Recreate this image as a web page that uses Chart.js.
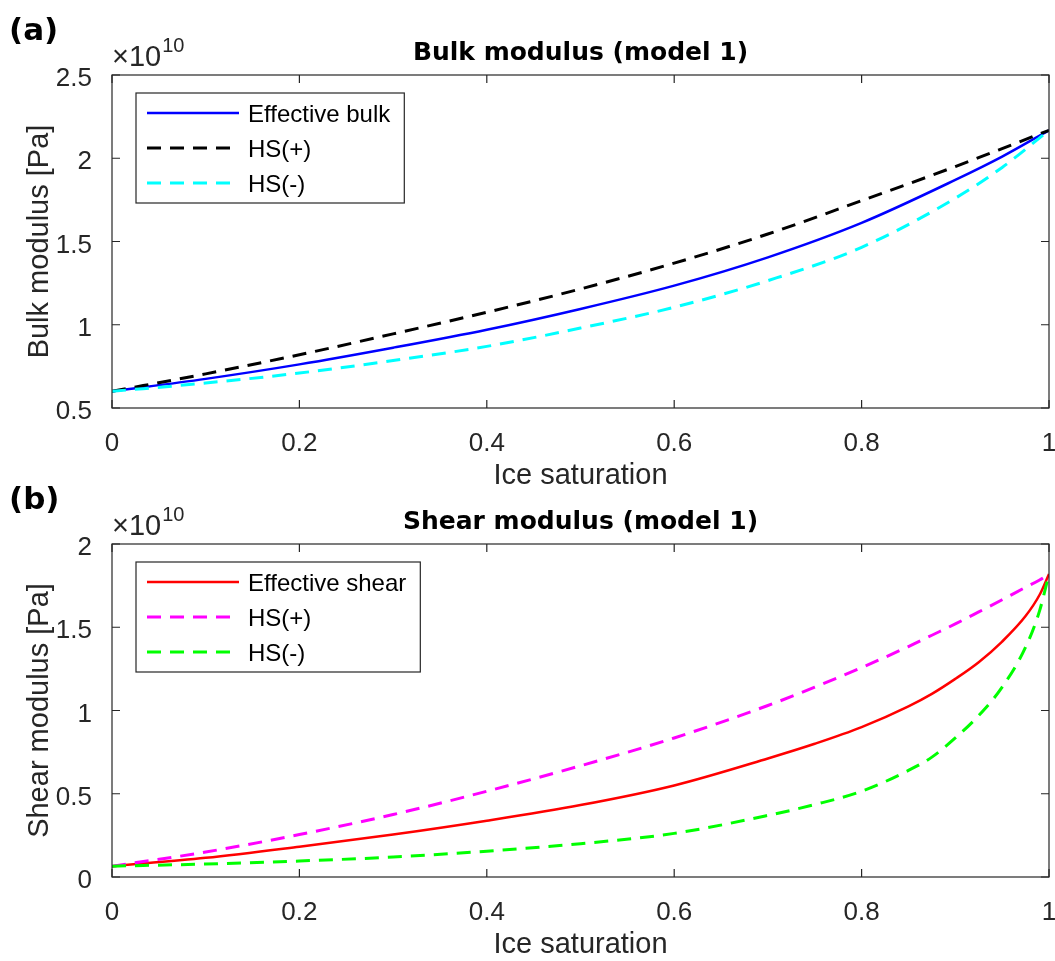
<!DOCTYPE html>
<html>
<head>
<meta charset="utf-8">
<script src="https://cdn.jsdelivr.net/npm/chart.js@4.4.0/dist/chart.umd.min.js"></script>
<style>
    html, body { margin: 0; padding: 0; background: #fff; }
    body { width: 1055px; height: 961px; position: relative; overflow: hidden; }
    canvas { position: absolute; left: 0; }
    #chart_a { top: 0; }
    #chart_b { top: 469px; }
</style>
</head>
<body>
<canvas id="chart_a" width="1055" height="490"></canvas>
<canvas id="chart_b" width="1055" height="490"></canvas>
<script>
// ice saturation (x) and moduli in units of 1e10 Pa
const sat_ticks = [0, 0.2, 0.4, 0.6, 0.8, 1];
const bulk_ticks = [0.5, 1, 1.5, 2, 2.5];
const shear_ticks = [0, 0.5, 1, 1.5, 2];

const sat_a = [0, 0.1, 0.2, 0.3, 0.4, 0.5, 0.6, 0.7, 0.8, 0.9, 0.95, 1];
const bulk_eff = [0.600, 0.675, 0.762, 0.862, 0.970, 1.095, 1.235, 1.405, 1.612, 1.870, 2.010, 2.168];
const bulk_hs_plus = [0.600, 0.705, 0.820, 0.945, 1.075, 1.215, 1.370, 1.545, 1.745, 1.950, 2.058, 2.168];
const bulk_hs_minus = [0.600, 0.650, 0.710, 0.785, 0.870, 0.980, 1.105, 1.265, 1.465, 1.760, 1.945, 2.168];

const sat_b = [0, 0.1, 0.2, 0.3, 0.4, 0.5, 0.6, 0.7, 0.75, 0.8, 0.85, 0.875, 0.9, 0.925, 0.95, 0.975, 0.99, 1];
const shear_eff = [0.065, 0.115, 0.182, 0.255, 0.338, 0.432, 0.550, 0.712, 0.800, 0.900, 1.025, 1.100, 1.190, 1.290, 1.414, 1.567, 1.695, 1.820];
const shear_hs_plus = [0.065, 0.150, 0.255, 0.375, 0.515, 0.668, 0.835, 1.030, 1.140, 1.258, 1.384, 1.452, 1.520, 1.592, 1.665, 1.740, 1.784, 1.820];
const shear_hs_minus = [0.065, 0.078, 0.096, 0.120, 0.155, 0.200, 0.262, 0.370, 0.435, 0.515, 0.640, 0.720, 0.835, 0.970, 1.140, 1.380, 1.600, 1.820];

const axis_color = '#262626';
const sans = '"Liberation Sans", Arial, sans-serif';

Chart.defaults.font.family = sans;
Chart.defaults.color = axis_color;

const fmt = v => String(+Number(v).toFixed(2));

// box, inward ticks, legend, title, exponent and panel letter
const frame_plugin = {
    id: 'frame',
    afterDatasetsDraw(chart, args, opts) {
        const ctx = chart.ctx;
        const {left, right, top, bottom} = chart.chartArea;
        const xs = chart.scales.x;
        const ys = chart.scales.y;
        ctx.save();
        ctx.setLineDash([]);
        ctx.strokeStyle = axis_color;
        ctx.lineWidth = 1.2;
        ctx.strokeRect(left, top, right - left, bottom - top);
        ctx.beginPath();
        xs.ticks.forEach(t => {
            const p = xs.getPixelForValue(t.value);
            ctx.moveTo(p, bottom); ctx.lineTo(p, bottom - 8);
            ctx.moveTo(p, top); ctx.lineTo(p, top + 8);
        });
        ys.ticks.forEach(t => {
            const p = ys.getPixelForValue(t.value);
            ctx.moveTo(left, p); ctx.lineTo(left + 8, p);
            ctx.moveTo(right, p); ctx.lineTo(right - 8, p);
        });
        ctx.stroke();

        // legend
        ctx.font = '24px ' + sans;
        const sets = chart.data.datasets;
        const tw = Math.max(...sets.map(d => ctx.measureText(d.label).width));
        const bx = left + 24, by = top + 18;
        const bw = 112 + tw + 14, bh = 110;
        ctx.fillStyle = '#fff';
        ctx.fillRect(bx, by, bw, bh);
        ctx.strokeStyle = axis_color;
        ctx.lineWidth = 1.2;
        ctx.strokeRect(bx, by, bw, bh);
        sets.forEach((d, i) => {
            const ry = by + 20 + i * 35;
            ctx.beginPath();
            ctx.strokeStyle = d.borderColor;
            ctx.lineWidth = d.borderWidth;
            ctx.setLineDash(d.borderDash);
            ctx.moveTo(bx + 11, ry);
            ctx.lineTo(bx + 103, ry);
            ctx.stroke();
            ctx.setLineDash([]);
            ctx.fillStyle = '#000';
            ctx.textAlign = 'left';
            ctx.textBaseline = 'middle';
            ctx.fillText(d.label, bx + 112, ry + 2);
        });

        // title
        ctx.fillStyle = '#000';
        ctx.textAlign = 'center';
        ctx.textBaseline = 'alphabetic';
        ctx.font = 'bold 25px "DejaVu Sans", sans-serif';
        ctx.fillText(opts.title, (left + right) / 2, top - 15);

        // x10^10 multiplier
        ctx.fillStyle = axis_color;
        ctx.textAlign = 'left';
        ctx.font = '29px ' + sans;
        ctx.fillText('\u00d710', left, top - 9);
        const w = ctx.measureText('\u00d710').width;
        ctx.font = '20px ' + sans;
        ctx.fillText('10', left + w + 1, top - 23);

        // panel letter
        ctx.fillStyle = '#000';
        ctx.font = 'bold 31px "DejaVu Sans", sans-serif';
        ctx.fillText(opts.tag, 9, top - 35);
        ctx.restore();
    }
};

function make_chart(id, x, series, y_ticks, y_title, title, tag) {
    const datasets = series.map((s, i) => ({
        label: s.label,
        data: x.map((v, j) => ({x: v, y: s.values[j]})),
        borderColor: s.color,
        borderWidth: s.dash ? 3 : 2.5,
        borderDash: s.dash ? [14, 9] : [],
        pointRadius: 0,
        fill: false,
        cubicInterpolationMode: 'monotone',
        order: series.length - i
    }));
    new Chart(document.getElementById(id), {
        type: 'line',
        data: { datasets: datasets },
        options: {
            responsive: false,
            animation: false,
            events: [],
            layout: { padding: { top: 75, right: 6, left: 0, bottom: 0 } },
            plugins: {
                legend: { display: false },
                tooltip: { enabled: false },
                frame: { title: title, tag: tag }
            },
            scales: {
                x: {
                    type: 'linear',
                    min: sat_ticks[0],
                    max: sat_ticks[sat_ticks.length - 1],
                    afterBuildTicks: s => { s.ticks = sat_ticks.map(v => ({value: v})); },
                    afterFit: s => {
                        s.height = 82;
                        s.paddingLeft = 0;
                        s.paddingRight = 0;
                    },
                    grid: { display: false },
                    border: { display: false },
                    ticks: { font: { size: 26 }, color: axis_color, padding: 12, maxRotation: 0, callback: fmt },
                    title: {
                        display: true,
                        text: 'Ice saturation',
                        font: { size: 29 },
                        color: axis_color,
                        padding: { top: 0, bottom: -3 }
                    }
                },
                y: {
                    type: 'linear',
                    min: y_ticks[0],
                    max: y_ticks[y_ticks.length - 1],
                    afterBuildTicks: s => { s.ticks = y_ticks.map(v => ({value: v})); },
                    afterFit: s => {
                        s.width = 112;
                        s.paddingTop = 0;
                        s.paddingBottom = 0;
                    },
                    grid: { display: false },
                    border: { display: false },
                    ticks: { font: { size: 26 }, color: axis_color, padding: 12, labelOffset: 4, callback: fmt },
                    title: {
                        display: true,
                        text: y_title,
                        font: { size: 29 },
                        color: axis_color,
                        padding: { top: 23, bottom: 0 }
                    }
                }
            }
        },
        plugins: [frame_plugin]
    });
}

make_chart('chart_a', sat_a, [
    { label: 'Effective bulk', values: bulk_eff, color: '#0000ff', dash: false },
    { label: 'HS(+)', values: bulk_hs_plus, color: '#000000', dash: true },
    { label: 'HS(-)', values: bulk_hs_minus, color: '#00ffff', dash: true }
], bulk_ticks, 'Bulk modulus [Pa]', 'Bulk modulus (model 1)', '(a)');

make_chart('chart_b', sat_b, [
    { label: 'Effective shear', values: shear_eff, color: '#ff0000', dash: false },
    { label: 'HS(+)', values: shear_hs_plus, color: '#ff00ff', dash: true },
    { label: 'HS(-)', values: shear_hs_minus, color: '#00ff00', dash: true }
], shear_ticks, 'Shear modulus [Pa]', 'Shear modulus (model 1)', '(b)');
</script>
</body>
</html>
